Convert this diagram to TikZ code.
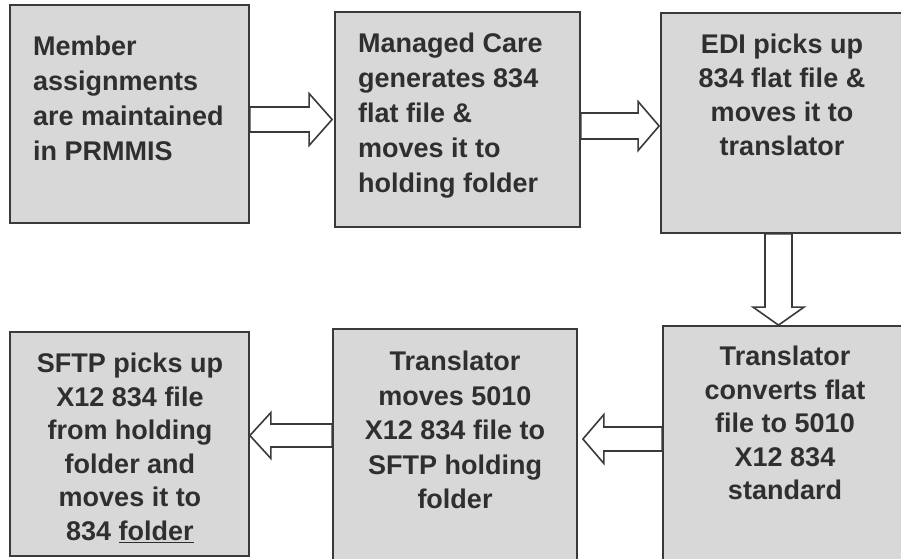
\documentclass[tikz,border=0pt]{standalone}
\usepackage{fontspec}
\setmainfont{Liberation Sans}
\usetikzlibrary{calc}
\definecolor{boxfill}{HTML}{D8D8D8}
\definecolor{boxline}{HTML}{3A3A3A}
\definecolor{txtcol}{HTML}{2F2F2F}
\tikzset{
  stepbox/.style={draw=boxline, line width=1.8pt, fill=boxfill, inner sep=0pt},
  txt/.style={inner sep=0pt, text=txtcol, font=\fontsize{27}{35}\selectfont\bfseries},
  barrow/.style={draw=boxline, line width=1.6pt, fill=white, line join=miter}
}
\begin{document}
\begin{tikzpicture}[x=1pt,y=-1pt]
\useasboundingbox (0,0) rectangle (901,558);
% boxes
\node[stepbox, minimum width=239pt, minimum height=218pt] (b1) at (129.5,114) {};
\node[stepbox, minimum width=245pt, minimum height=215pt] (b2) at (457.5,119.5) {};
\node[stepbox, minimum width=260pt, minimum height=220pt] (b3) at (791,123) {};
\node[stepbox, minimum width=260pt, minimum height=240pt] (b6) at (793,446) {};
\node[stepbox, minimum width=244pt, minimum height=240pt] (b5) at (455,449) {};
\node[stepbox, minimum width=239pt, minimum height=224pt] (b4) at (129.5,444) {};
% texts
\node[txt, align=left, anchor=north west] (t1) at (33,36) {Member\\assignments\\are maintained\\in PRMMIS};
\node[txt, align=left, anchor=north west] (t2) at (358,33) {Managed Care\\generates 834\\flat file \&\\moves it to\\holding folder};
\node[txt, align=center, anchor=north, font=\fontsize{27}{34}\selectfont\bfseries] (t3) at (782,34) {EDI picks up\\834 flat file \&\\moves it to\\translator};
\node[txt, align=center, anchor=north, font=\fontsize{27}{33.5}\selectfont\bfseries] (t6) at (785,346) {Translator\\converts flat\\file to 5010\\X12 834\\standard};
\node[txt, align=center, anchor=north, font=\fontsize{27}{34.5}\selectfont\bfseries] (t5) at (455,351) {Translator\\moves 5010\\X12 834 file to\\SFTP holding\\folder};
\node[txt, align=center, anchor=north, font=\fontsize{27}{33.5}\selectfont\bfseries] (t4) at (130,353) {SFTP picks up\\X12 834 file\\from holding\\folder and\\moves it to\\834 \underline{folder}};
% arrow anchor points
\coordinate (a1s) at ($(b1.east)+(0,5.5)$);
\coordinate (a1e) at ($(b2.west)+(-2,0)$);
\coordinate (a2s) at ($(b2.east)+(0,6.5)$);
\coordinate (a2e) at ($(b3.west)+(-1,3)$);
\coordinate (a3s) at ($(b3.south)+(-12.5,0)$);
\coordinate (a3e) at ($(b6.north)+(-14.5,0)$);
\coordinate (a4s) at ($(b6.west)+(0,-7)$);
\coordinate (a4e) at ($(b5.east)+(5,-10)$);
\coordinate (a5s) at ($(b5.west)+(0,-13.5)$);
\coordinate (a5e) at ($(b4.east)+(0,-8.5)$);
% arrow b1 -> b2
\draw[barrow] ($(a1s)+(0,-12.5)$) -- ($(a1e)+(-23,-12.5)$) -- ($(a1e)+(-23,-26)$) -- (a1e)
  -- ($(a1e)+(-23,26)$) -- ($(a1e)+(-23,12.5)$) -- ($(a1s)+(0,12.5)$) -- cycle;
% arrow b2 -> b3
\draw[barrow] ($(a2s)+(0,-13)$) -- ($(a2e)+(-21,-13)$) -- ($(a2e)+(-21,-24.5)$) -- (a2e)
  -- ($(a2e)+(-21,24.5)$) -- ($(a2e)+(-21,13)$) -- ($(a2s)+(0,13)$) -- cycle;
% arrow b3 -> b6
\draw[barrow] ($(a3s)+(-13.5,0)$) -- ($(a3e)+(-13.5,-18)$) -- ($(a3e)+(-25.5,-18)$) -- (a3e)
  -- ($(a3e)+(25.5,-18)$) -- ($(a3e)+(13.5,-18)$) -- ($(a3s)+(13.5,0)$) -- cycle;
% arrow b6 -> b5
\draw[barrow] ($(a4s)+(0,-12)$) -- ($(a4e)+(21,-12)$) -- ($(a4e)+(21,-24.5)$) -- (a4e)
  -- ($(a4e)+(21,24.5)$) -- ($(a4e)+(21,12)$) -- ($(a4s)+(0,12)$) -- cycle;
% arrow b5 -> b4
\draw[barrow] ($(a5s)+(0,-11.5)$) -- ($(a5e)+(21,-11.5)$) -- ($(a5e)+(21,-23)$) -- (a5e)
  -- ($(a5e)+(21,23)$) -- ($(a5e)+(21,11.5)$) -- ($(a5s)+(0,11.5)$) -- cycle;
\end{tikzpicture}
\end{document}
